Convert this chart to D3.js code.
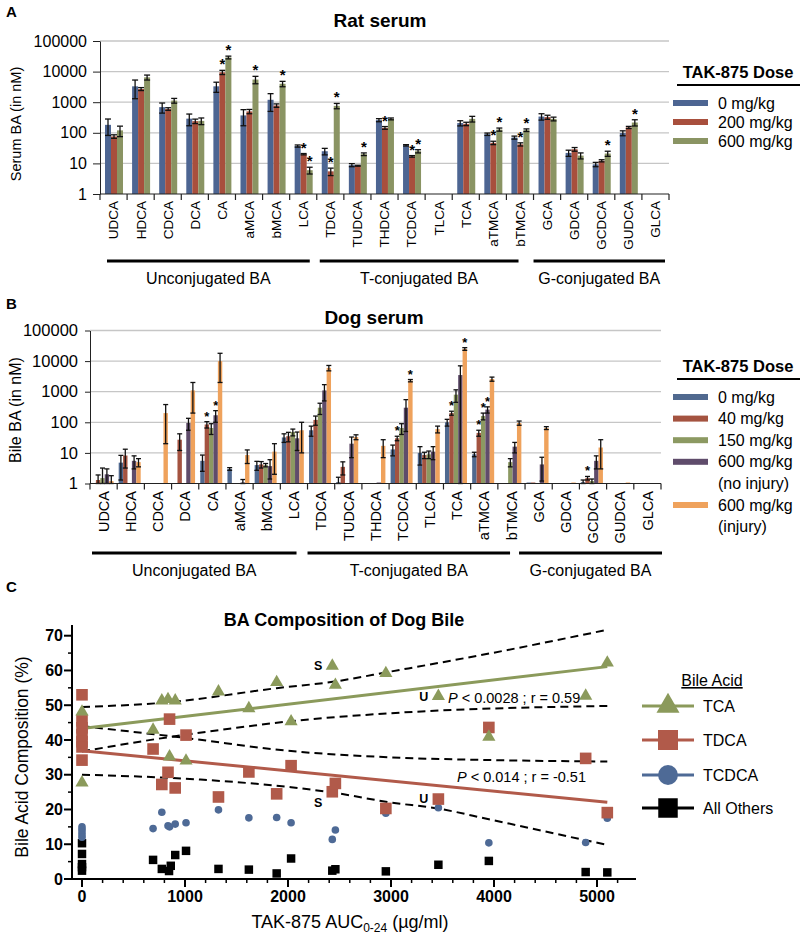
<!DOCTYPE html>
<html><head><meta charset="utf-8">
<script src="https://cdnjs.cloudflare.com/ajax/libs/d3/7.8.5/d3.min.js"></script>
<style>
body{margin:0;background:#fff;}
svg text{font-family:Arial,"Liberation Sans",Helvetica,sans-serif;fill:#000;}
</style></head><body>
<svg id="chart" width="800" height="934" viewBox="0 0 800 934"></svg>
<script>
// ================= DATA =================
const categories = ["UDCA","HDCA","CDCA","DCA","CA","aMCA","bMCA","LCA","TDCA","TUDCA","THDCA","TCDCA","TLCA","TCA","aTMCA","bTMCA","GCA","GDCA","GCDCA","GUDCA","GLCA"];
const groupNames = ["Unconjugated BA","T-conjugated BA","G-conjugated BA"];
const groupFirst = ["UDCA","TDCA","GCA"];
const groupLast  = ["LCA","bTMCA","GLCA"];
const logTicks = [1,10,100,1000,10000,100000];

// Panel A: rat serum
const ratDoses = ["0 mg/kg","200 mg/kg","600 mg/kg"];
const rat0   = [182,3300,690,290,3300,370,1200,37,25,8.8,260,39,null,208,90,70,340,22,9.3,98,null];
const rat200 = [76,2700,600,240,9500,500,780,20,5.5,8.4,145,17,null,196,47,42,325,29,12.2,150,null];
const rat600 = [120,6500,1130,245,29000,5500,4000,6,760,20,285,25,null,285,128,122,285,18,21,217,null];
const ratErr0   = [100,2000,250,120,1200,200,700,3,6,1,30,2,0,40,8,8,80,5,1.5,18,0];
const ratErr200 = [10,300,60,40,1500,80,100,1,1.5,0.3,15,1,0,25,6,5,50,4,1,12,0];
const ratErr600 = [45,1200,200,60,3000,1500,800,1.5,150,2,20,3,0,60,15,12,40,4,4,50,0];
const ratStar0   = [];
const ratStar200 = ["CA","LCA","TDCA","THDCA","TCDCA","aTMCA","bTMCA"];
const ratStar600 = ["CA","aMCA","bMCA","LCA","TDCA","TUDCA","TCDCA","aTMCA","bTMCA","GCDCA","GUDCA"];

// Panel B: dog bile
const dogDoses = [["0 mg/kg"],["40 mg/kg"],["150 mg/kg"],["600 mg/kg","(no injury)"],["600 mg/kg","(injury)"]];
const dog0    = [null,4.8,null,null,5.5,3.0,4.0,32,55,1.1,null,13,10,100,9,null,1.0,null,1.1,null,null];
const dog40   = [1.3,8.2,null,27,85,null,4.2,35,120,3.5,null,30,8.5,200,45,null,1.0,null,1.5,null,null];
const dog150  = [1.5,null,null,null,65,null,4.0,48,300,null,null,65,9,800,160,5,null,null,1.2,null,null];
const dog600n = [2.0,5.5,null,95,170,1.05,3.7,30,1100,20,1.0,300,11,3500,260,16,4.2,null,5.5,null,null];
const dog600i = [1.2,5,200,1100,10000,8.5,11,55,6000,33,17,2300,60,25000,2600,95,65,1.02,15,1.05,null];
const dogErr0    = [0,3.5,0,0,3,0.3,1.3,10,20,0.5,0,5,6,25,1.5,0,0,0,0.2,0,0];
const dogErr40   = [0.6,5,0,15,20,0,1,12,40,1.6,0,5,2,30,10,0,0,0,0.2,0,0];
const dogErr150  = [1.7,0,0,0,25,0,0.5,12,120,0,0,25,2.5,350,40,1.5,0,0,0.2,0,0];
const dogErr600n = [1.0,2.5,0,40,70,0.3,2.3,18,600,13,0,250,5,3500,60,6,3,0,2.5,0,0];
const dogErr600i = [0.6,1.5,180,900,8000,4,9,45,1200,6,10,200,15,2500,400,15,7,0,12,0,0];
const dogStar0    = [];
const dogStar40   = ["CA","TCDCA","TCA","aTMCA","GCDCA"];
const dogStar150  = ["aTMCA"];
const dogStar600n = ["CA","aTMCA"];
const dogStar600i = ["TCDCA","TCA"];

// Panel C: BA composition of dog bile  [AUC, %]
const tcaPts = [[0,48.1],[0,27.7],[690,42.9],[775,51.3],[835,51.7],[850,35.2],[905,51.3],[1010,34.0],[1325,53.9],[1620,49.1],[1890,56.6],[2030,45.3],[2430,61.3],[2460,55.8],[2950,59.2],[3460,52.6],[3950,40.9],[4890,52.7],[5100,62.2]];
const tdcaPts = [[0,53],[0,45.5],[0,43.5],[0,41.5],[0,39.5],[0,38],[0,34.2],[690,37.4],[775,27.2],[850,46.0],[835,30.7],[905,26.2],[1010,41.4],[1325,23.6],[1620,30.8],[1890,24.5],[2030,32.6],[2430,25.1],[2460,27.5],[2950,20.3],[3460,23.0],[3950,43.6],[4890,34.7],[5100,19.1]];
const tcdcaPts = [[0,15],[0,14.3],[0,13.5],[0,12.7],[0,12],[690,14.5],[775,19.2],[835,15.3],[850,15.0],[905,15.8],[1010,16.2],[1325,19.9],[1620,17.6],[1890,17.7],[2030,16.2],[2430,11.4],[2460,14.1],[2950,18.9],[3460,20.5],[3950,10.4],[4890,10.5],[5100,17.5]];
const othersPts = [[0,10.3],[0,7.2],[0,4.3],[0,3.4],[0,2.4],[690,5.5],[775,2.9],[862,3.8],[845,2.3],[905,6.9],[1010,8.1],[1325,2.9],[1620,2.7],[1890,1.6],[2030,5.9],[2430,2.4],[2460,2.8],[2950,2.2],[3460,4.1],[3950,5.2],[4890,2.0],[5100,1.9]];
const tcaFit  = [[0,43.3],[5100,61.1]];
const tdcaFit = [[0,36.9],[5100,22.1]];
const tcaUpper  = [[0,49.5],[822,50.8],[1890,54.9],[2450,56.8],[3000,59.7],[3960,64.9],[5100,71.7]];
const tcaLower  = [[0,36.7],[838,40.8],[1500,43.5],[2030,45.4],[3000,47.7],[5100,49.8]];
const tdcaUpper = [[0,44.0],[1000,40.6],[2030,36.8],[3000,35.0],[4000,34.2],[5100,33.8]];
const tdcaLower = [[0,30.0],[1150,28.6],[2030,26.4],[2430,24.9],[3000,22.0],[3450,20.3],[3950,17.2],[4880,11.2],[5100,9.8]];
const seriesNamesC = ["TCA","TDCA","TCDCA","All Others"];
const statTCA = "< 0.0028 ; r = 0.59";
const statTDCA = "< 0.014 ; r = -0.51";
const xTicksC = [0,1000,2000,3000,4000,5000];
const yTicksC = [0,10,20,30,40,50,60,70];

// ================= DRAW =================
const svg = d3.select("#chart");
const FONT = "Arial, 'Liberation Sans', sans-serif";

function barPanel(o) {
  const x = d3.scaleBand().domain(categories).range([o.x0, o.x1]);
  const y = d3.scaleLog().domain([1, 100000]).range([o.yBase, o.yTop]);
  const n = o.values.length;
  const sub = d3.scaleBand().domain(d3.range(n)).range([o.subStart, o.subStart + o.barW * n]);
  const g = svg.append("g");
  g.selectAll(".grid").data(logTicks.slice(1)).join("line")
    .attr("x1", o.x0).attr("x2", o.x1).attr("y1", d => y(d)).attr("y2", d => y(d))
    .attr("stroke", "#c6c6c6").attr("stroke-width", 1.3);
  o.values.forEach((vals, si) => {
    const recs = categories.map((c, i) => ({c, v: vals[i], e: o.errors[si][i], s: o.stars[si].includes(c)}))
      .filter(d => d.v != null);
    const bx = d => x(d.c) + sub(si);
    const cx = d => bx(d) + sub.bandwidth() / 2;
    g.append("g").selectAll("rect").data(recs).join("rect")
      .attr("x", bx).attr("width", sub.bandwidth())
      .attr("y", d => Math.min(y(d.v), y(1) - 1)).attr("height", d => Math.max(1, y(1) - y(d.v)))
      .attr("fill", o.colors[si]);
    const eb = recs.filter(d => d.e > 0);
    const eg = g.append("g").attr("stroke", "#111").attr("stroke-width", 1.3);
    const top = d => y(d.v + d.e), bot = d => y(Math.max(1, d.v - d.e));
    eg.selectAll(".v").data(eb).join("line").attr("x1", cx).attr("x2", cx).attr("y1", top).attr("y2", bot);
    eg.selectAll(".t").data(eb).join("line").attr("x1", d => cx(d) - o.capW / 2).attr("x2", d => cx(d) + o.capW / 2).attr("y1", top).attr("y2", top);
    eg.selectAll(".b").data(eb).join("line").attr("x1", d => cx(d) - o.capW / 2).attr("x2", d => cx(d) + o.capW / 2).attr("y1", bot).attr("y2", bot);
    g.append("g").selectAll("text").data(recs.filter(d => d.s)).join("text")
      .attr("x", cx).attr("y", d => y(d.v + d.e) + o.starDy)
      .attr("text-anchor", "middle").attr("font-size", o.starFont).attr("font-weight", "bold").text("*");
  });
  // y axis
  svg.append("g").attr("transform", `translate(${o.x0},0)`)
    .call(d3.axisLeft(y).tickValues(logTicks).tickFormat(d3.format("d")).tickSize(o.tickLen).tickPadding(o.tickPad).tickSizeOuter(0))
    .attr("font-family", FONT).attr("font-size", o.tickFont)
    .call(a => a.selectAll("path,line").attr("stroke", "#222"))
    .call(a => a.selectAll("text").attr("fill", "#000"));
  // x axis line + boundary ticks
  g.append("line").attr("x1", o.x0).attr("x2", o.x1).attr("y1", o.yBase).attr("y2", o.yBase).attr("stroke", "#222").attr("stroke-width", 1.2);
  g.selectAll(".xt").data(categories.map(c => x(c)).concat([o.x1])).join("line")
    .attr("x1", d => d).attr("x2", d => d).attr("y1", o.yBase).attr("y2", o.yBase + 6).attr("stroke", "#222").attr("stroke-width", 1.2);
  g.selectAll(".xl").data(categories).join("text")
    .attr("transform", c => `translate(${x(c) + x.bandwidth() / 2},${o.labelTop}) rotate(-90)`)
    .attr("text-anchor", "end").attr("dy", "0.36em").attr("font-size", o.labelFont).text(c => c);
  // group brackets
  groupNames.forEach((name, gi) => {
    const a = x(groupFirst[gi]) + o.brPadL[gi], b = x(groupLast[gi]) + x.bandwidth() - o.brPadR[gi];
    g.append("line").attr("x1", a).attr("x2", b).attr("y1", o.brY).attr("y2", o.brY).attr("stroke", "#000").attr("stroke-width", 3);
    g.append("text").attr("x", (a + b) / 2).attr("y", o.grpY).attr("text-anchor", "middle").attr("font-size", 16)
      .attr("dy", "0.35em").text(name);
  });
  // titles
  svg.append("text").attr("x", o.titleX).attr("y", o.titleY).attr("text-anchor", "middle")
    .attr("font-size", 19).attr("font-weight", "bold").text(o.title);
  svg.append("text").attr("transform", `translate(${o.yTitleX},${o.yTitleY}) rotate(-90)`)
    .attr("text-anchor", "middle").attr("dy", "0.35em").attr("font-size", o.yTitleFont).text(o.yTitle);
  svg.append("text").attr("x", 6).attr("y", o.letterY).attr("font-size", 15).attr("font-weight", "bold").text(o.letter);
  // legend
  const lg = svg.append("g");
  lg.append("text").attr("x", 738).attr("y", o.legTitleY).attr("text-anchor", "middle").attr("dy", "0.35em")
    .attr("font-size", 16.5).attr("font-weight", "bold").text("TAK-875 Dose");
  lg.append("line").attr("x1", 677).attr("x2", 800).attr("y1", o.legTitleY + 13).attr("y2", o.legTitleY + 13)
    .attr("stroke", "#000").attr("stroke-width", 2);
  let line = 0;
  o.legend.forEach((lab, i) => {
    const yy = o.legY0 + o.legStep * line;
    lg.append("rect").attr("x", 673).attr("y", yy - 3).attr("width", 35).attr("height", 6).attr("fill", o.colors[i]);
    lab.forEach((t, k) => {
      lg.append("text").attr("x", 718).attr("y", yy + k * o.legStep).attr("dy", "0.35em").attr("font-size", 16).text(t);
    });
    line += lab.length;
  });
}

barPanel({
  letter: "A", letterY: 17, title: "Rat serum", titleX: 380, titleY: 27,
  x0: 100, x1: 669, yBase: 194, yTop: 41, subStart: 5, barW: 6, capW: 6,
  values: [rat0, rat200, rat600], errors: [ratErr0, ratErr200, ratErr600], stars: [ratStar0, ratStar200, ratStar600],
  colors: ["#4d6592", "#a84f3d", "#8a9463"], starFont: 15, starDy: -1,
  tickLen: 7, tickPad: 6, tickFont: 16, labelTop: 201, labelFont: 13.5,
  brY: 261, brPadL: [7, 3, 0], brPadR: [7, 15, 4], grpY: 278,
  yTitle: "Serum BA (in nM)", yTitleX: 16, yTitleY: 124, yTitleFont: 14.5,
  legTitleY: 72, legY0: 103, legStep: 19, legend: ratDoses.map(d => [d])
});

barPanel({
  letter: "B", letterY: 309, title: "Dog serum", titleX: 374, titleY: 324,
  x0: 90, x1: 661, yBase: 483.5, yTop: 330.5, subStart: 1.5, barW: 4.4, capW: 5,
  values: [dog0, dog40, dog150, dog600n, dog600i], errors: [dogErr0, dogErr40, dogErr150, dogErr600n, dogErr600i],
  stars: [dogStar0, dogStar40, dogStar150, dogStar600n, dogStar600i],
  colors: ["#50698f", "#a45340", "#8c9962", "#5f4c6b", "#efa25c"], starFont: 13, starDy: -1,
  tickLen: 5, tickPad: 7, tickFont: 16.5, labelTop: 491, labelFont: 14.5,
  brY: 553, brPadL: [2, 0, -6], brPadR: [11, 15, -1], grpY: 570,
  yTitle: "Bile BA (in nM)", yTitleX: 15, yTitleY: 410, yTitleFont: 16,
  legTitleY: 366, legY0: 397, legStep: 21.6, legend: dogDoses
});

// ---------- Panel C ----------
const xC = d3.scaleLinear().domain([0, 5000]).range([82, 597]);
const yC = d3.scaleLinear().domain([0, 70]).range([879, 635.7]);
const gC = svg.append("g");
svg.append("text").attr("x", 6).attr("y", 592).attr("font-size", 15).attr("font-weight", "bold").text("C");
svg.append("text").attr("x", 344).attr("y", 626).attr("text-anchor", "middle").attr("font-size", 18).attr("font-weight", "bold")
  .text("BA Composition of Dog Bile");
// axes
const axX0 = 72, axX1 = 636, axYTop = 625;
gC.append("line").attr("x1", axX0).attr("x2", axX0).attr("y1", yC(0)).attr("y2", axYTop).attr("stroke", "#000").attr("stroke-width", 2);
gC.append("line").attr("x1", axX0).attr("x2", axX1).attr("y1", yC(0)).attr("y2", yC(0)).attr("stroke", "#000").attr("stroke-width", 2);
const yMinor = d3.range(5, 70, 10);
gC.selectAll(".yt").data(yTicksC).join("line").attr("x1", axX0 - 8).attr("x2", axX0).attr("y1", d => yC(d)).attr("y2", d => yC(d)).attr("stroke", "#000").attr("stroke-width", 2);
gC.selectAll(".ym").data(yMinor).join("line").attr("x1", axX0 - 4).attr("x2", axX0).attr("y1", d => yC(d)).attr("y2", d => yC(d)).attr("stroke", "#000").attr("stroke-width", 1.5);
gC.selectAll(".yl").data(yTicksC).join("text").attr("x", axX0 - 9).attr("y", d => yC(d)).attr("dy", "0.36em")
  .attr("text-anchor", "end").attr("font-size", 16).attr("font-weight", "bold").text(d => d);
const xMinor = d3.range(200, 5400, 200).filter(v => v % 1000 !== 0);
gC.selectAll(".xt").data(xTicksC).join("line").attr("x1", d => xC(d)).attr("x2", d => xC(d)).attr("y1", yC(0)).attr("y2", yC(0) + 8).attr("stroke", "#000").attr("stroke-width", 2);
gC.selectAll(".xm").data(xMinor).join("line").attr("x1", d => xC(d)).attr("x2", d => xC(d)).attr("y1", yC(0)).attr("y2", yC(0) + 4).attr("stroke", "#000").attr("stroke-width", 1.5);
gC.selectAll(".xl").data(xTicksC).join("text").attr("x", d => xC(d)).attr("y", 896).attr("dy", "0.36em")
  .attr("text-anchor", "middle").attr("font-size", 16).attr("font-weight", "bold").text(d => d);
// axis titles
const xt = svg.append("text").attr("x", 350).attr("y", 928).attr("text-anchor", "middle").attr("font-size", 18);
xt.append("tspan").text("TAK-875 AUC");
xt.append("tspan").attr("font-size", 12).attr("dy", 4).text("0-24");
xt.append("tspan").attr("dy", -4).text(" (µg/ml)");
svg.append("text").attr("transform", "translate(22,757) rotate(-90)").attr("text-anchor", "middle").attr("dy", "0.35em")
  .attr("font-size", 17.5).text("Bile Acid Composition (%)");
// CI dashed curves and fits
const lineC = d3.line().x(d => xC(d[0])).y(d => yC(d[1])).curve(d3.curveMonotoneX);
[tcaUpper, tcaLower, tdcaUpper, tdcaLower].forEach(arr => {
  gC.append("path").attr("d", lineC(arr)).attr("fill", "none").attr("stroke", "#000").attr("stroke-width", 2).attr("stroke-dasharray", "8,5");
});
const colTCA = "#8b9a5b", colTDCA = "#b15a4a", colTCDCA = "#4e6a96";
gC.append("path").attr("d", lineC(tcaFit)).attr("fill", "none").attr("stroke", colTCA).attr("stroke-width", 3);
gC.append("path").attr("d", lineC(tdcaFit)).attr("fill", "none").attr("stroke", colTDCA).attr("stroke-width", 3);
// points
const sym = (type, size) => d3.symbol().type(type).size(size)();
gC.selectAll(".oth").data(othersPts).join("path").attr("d", sym(d3.symbolSquare, 72))
  .attr("transform", d => `translate(${xC(d[0])},${yC(d[1])})`).attr("fill", "#000");
gC.selectAll(".tcd").data(tcdcaPts).join("circle").attr("cx", d => xC(d[0])).attr("cy", d => yC(d[1])).attr("r", 3.8).attr("fill", colTCDCA);
gC.selectAll(".tdc").data(tdcaPts).join("path").attr("d", sym(d3.symbolSquare, 135))
  .attr("transform", d => `translate(${xC(d[0])},${yC(d[1])})`).attr("fill", colTDCA);
gC.selectAll(".tca").data(tcaPts).join("path").attr("d", sym(d3.symbolTriangle, 75))
  .attr("transform", d => `translate(${xC(d[0])},${yC(d[1])})`).attr("fill", colTCA);
// S / U annotations
const ann = [["S", 2430, 61.3], ["S", 2430, 25.1], ["U", 3460, 52.6], ["U", 3460, 23.0]];
gC.selectAll(".ann").data(ann).join("text").attr("x", d => xC(d[1]) - 10).attr("y", d => yC(d[2]) + (d[0] === "S" && d[2] < 30 ? 11 : 0))
  .attr("dy", "0.35em").attr("text-anchor", "end").attr("font-size", 12.5).attr("font-weight", "bold").text(d => d[0]);
// stats text
[[statTCA, 448, 698], [statTDCA, 457, 777]].forEach(s => {
  const t = gC.append("text").attr("x", s[1]).attr("y", s[2]).attr("dy", "0.35em").attr("font-size", 14.5);
  t.append("tspan").attr("font-style", "italic").text("P");
  t.append("tspan").text(" " + s[0]);
});
// legend C
const lgC = svg.append("g");
lgC.append("text").attr("x", 712).attr("y", 686).attr("text-anchor", "middle").attr("font-size", 16)
  .attr("text-decoration", "underline").text("Bile Acid");
const legItems = [
  {name: seriesNamesC[0], col: colTCA, shape: d3.symbolTriangle, size: 230, y: 706},
  {name: seriesNamesC[1], col: colTDCA, shape: d3.symbolSquare, size: 400, y: 740},
  {name: seriesNamesC[2], col: colTCDCA, shape: d3.symbolCircle, size: 310, y: 775},
  {name: seriesNamesC[3], col: "#000", shape: d3.symbolSquare, size: 380, y: 808}
];
legItems.forEach(it => {
  lgC.append("line").attr("x1", 642).attr("x2", 694).attr("y1", it.y).attr("y2", it.y).attr("stroke", it.col).attr("stroke-width", 3);
  lgC.append("path").attr("d", sym(it.shape, it.size)).attr("transform", `translate(668,${it.y})`).attr("fill", it.col);
  lgC.append("text").attr("x", 703).attr("y", it.y).attr("dy", "0.36em").attr("font-size", 16).text(it.name);
});
</script>
</body></html>
